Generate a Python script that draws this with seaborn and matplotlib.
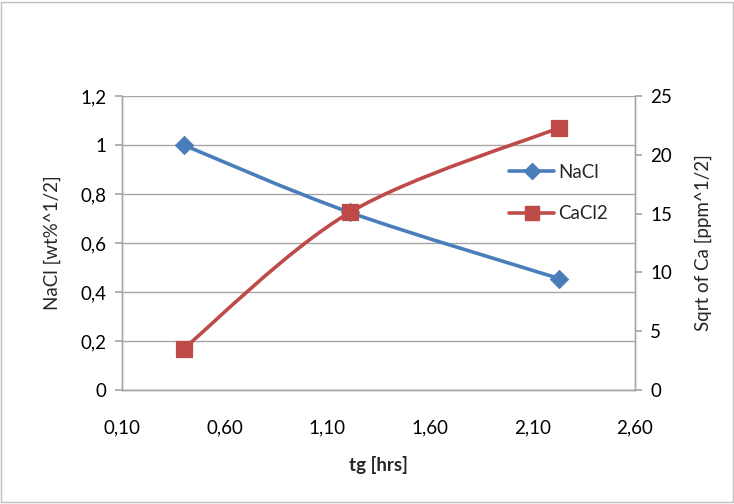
import numpy as np
import matplotlib
matplotlib.use("Agg")
import matplotlib.pyplot as plt
import seaborn as sns
import pandas as pd
from matplotlib.path import Path
from matplotlib.patches import PathPatch, Rectangle
from matplotlib.lines import Line2D
from matplotlib.ticker import FuncFormatter

# ---- data ----
tg = [0.40, 1.21, 2.23]
nacl = [1.00, 0.725, 0.455]
cacl2 = [3.5, 15.1, 22.3]
x_ticks = [0.10, 0.60, 1.10, 1.60, 2.10, 2.60]
left_ticks = [0, 0.2, 0.4, 0.6, 0.8, 1.0, 1.2]
right_ticks = [0, 5, 10, 15, 20, 25]

BLUE = "#4A7EBB"
RED = "#BE4B48"
GRID = "#A6A6A6"
FS = 13.5

sns.set_theme(style="white")
plt.rcParams['font.family'] = ['Lato', 'DejaVu Sans']

fig = plt.figure(figsize=(7.34, 5.04), dpi=100)
ax = fig.add_axes([0.1662, 0.2262, 0.8651 - 0.1662, 0.8095 - 0.2262])
ax2 = ax.twinx()

def smooth_path(xs, ys):
    pts = np.column_stack([xs, ys]).astype(float)
    n = len(pts)
    verts = [pts[0]]
    codes = [Path.MOVETO]
    for i in range(n - 1):
        p0 = pts[i - 1] if i > 0 else pts[i]
        p1 = pts[i]
        p2 = pts[i + 1]
        p3 = pts[i + 2] if i + 2 < n else pts[i + 1]
        c1 = p1 + (p2 - p0) / 6.0
        c2 = p2 - (p3 - p1) / 6.0
        verts += [c1, c2, p2]
        codes += [Path.CURVE4] * 3
    return Path(verts, codes)

df = pd.DataFrame({"tg": tg, "NaCl": nacl, "CaCl2": cacl2})

ax.add_patch(PathPatch(smooth_path(tg, nacl), fill=False, edgecolor=BLUE, lw=2.6,
                       capstyle='round', zorder=3))
sns.scatterplot(data=df, x="tg", y="NaCl", ax=ax, marker="D", s=85, color=BLUE,
                edgecolor=BLUE, zorder=4, legend=False)
ax2.add_patch(PathPatch(smooth_path(tg, cacl2), fill=False, edgecolor=RED, lw=2.6,
                        capstyle='round', zorder=3))
sns.scatterplot(data=df, x="tg", y="CaCl2", ax=ax2, marker="s", s=120, color=RED,
                edgecolor=RED, zorder=4, legend=False)

ax.set_xlim(0.10, 2.60)
ax.set_ylim(0, 1.2)
ax2.set_ylim(0, 25)
ax.set_xticks(x_ticks)
ax.set_yticks(left_ticks)
ax2.set_yticks(right_ticks)
ax.xaxis.set_major_formatter(FuncFormatter(lambda v, p: f"{v:.2f}".replace(".", ",")))
ax.yaxis.set_major_formatter(FuncFormatter(lambda v, p: ("%g" % round(v, 1)).replace(".", ",")))
ax2.yaxis.set_major_formatter(FuncFormatter(lambda v, p: "%d" % v))

ax.grid(axis='y', color=GRID, lw=1.0)
ax.set_axisbelow(True)
for a in (ax, ax2):
    for s in a.spines.values():
        s.set_color(GRID)
        s.set_linewidth(1.0)
    a.spines['top'].set_visible(False)
ax.tick_params(axis='y', which='both', left=True, length=5, color=GRID, labelsize=FS,
               pad=6, labelcolor='black')
ax.tick_params(axis='x', bottom=False, labelsize=FS, pad=15, labelcolor='black')
ax2.tick_params(axis='y', right=True, length=5, color=GRID, labelsize=FS, pad=6,
                labelcolor='black')

ax.set_xlabel("tg [hrs]", fontsize=FS, fontweight='bold', labelpad=14)
ax.set_ylabel("NaCl [wt%^1/2]", fontsize=FS, labelpad=14)
ax2.set_ylabel("Sqrt of Ca [ppm^1/2]", fontsize=FS, labelpad=16)

handles = [Line2D([0], [0], color=BLUE, lw=2.6, marker="D", markersize=8),
           Line2D([0], [0], color=RED, lw=2.6, marker="s", markersize=10)]
ax2.legend(handles, ["NaCl", "CaCl2"], loc='upper left', bbox_to_anchor=(0.74, 0.795),
           frameon=False, fontsize=FS, handlelength=2.4, handletextpad=0.2,
           labelspacing=1.3, borderaxespad=0)

fig.patches.append(Rectangle((0.002, 0.003), 0.996, 0.994, transform=fig.transFigure,
                             fill=False, edgecolor="#BFBFBF", lw=1.0))

fig.savefig("out.png", dpi=100)
